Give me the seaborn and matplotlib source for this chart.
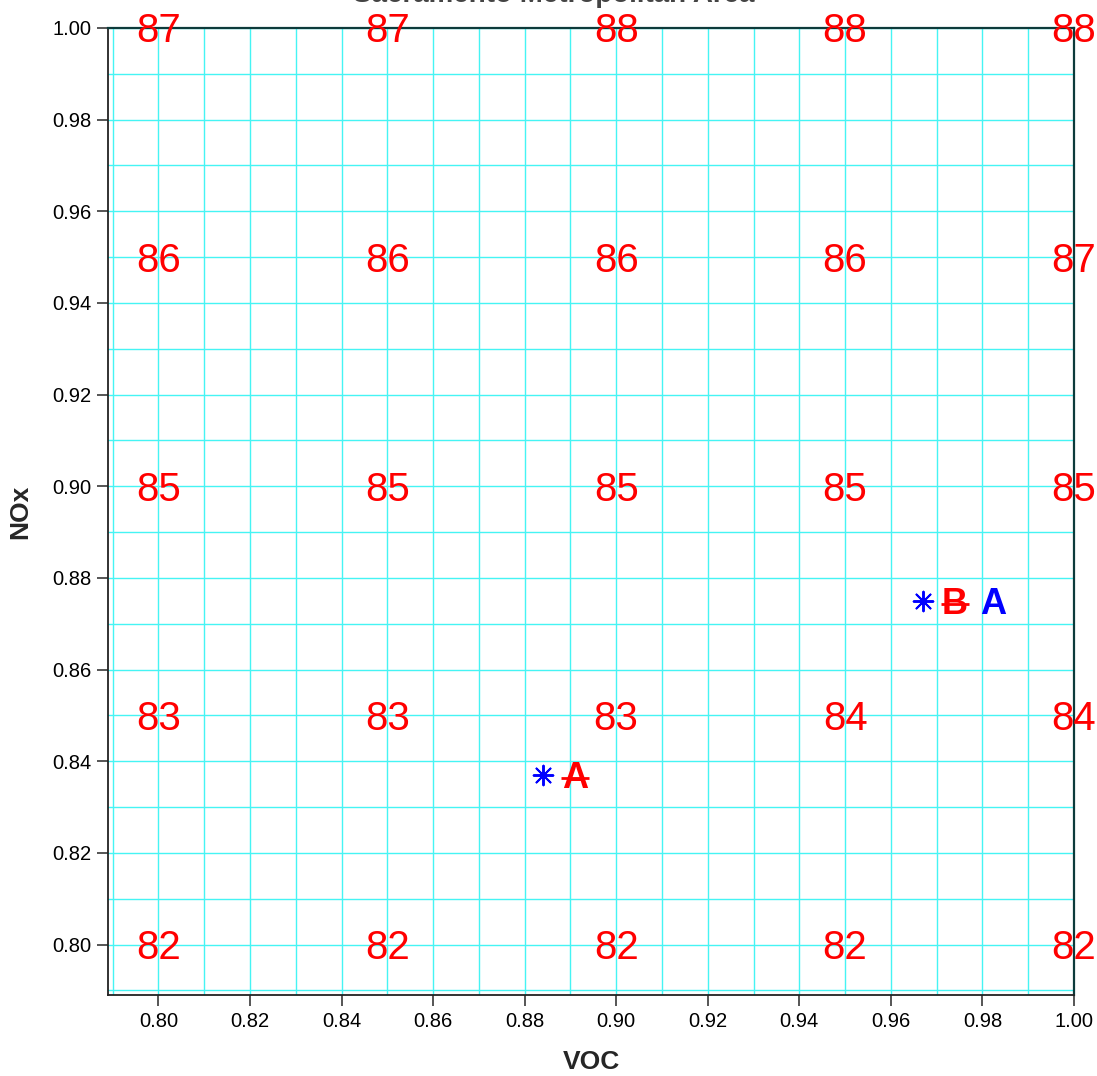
import numpy as np
import matplotlib
matplotlib.use('Agg')
import matplotlib.pyplot as plt
import seaborn as sns; sns.set_style('white')
from matplotlib.transforms import offset_copy

plt.rcParams['font.family'] = ['Liberation Sans', 'DejaVu Sans']

# isopleth grid (VOC / NOx scaling factors) and ozone values at each node
voc_levels = [0.80, 0.85, 0.90, 0.95, 1.00]
nox_levels = [1.00, 0.95, 0.90, 0.85, 0.80]
ozone = [
    [87, 87, 88, 88, 88],
    [86, 86, 86, 86, 87],
    [85, 85, 85, 85, 85],
    [83, 83, 83, 84, 84],
    [82, 82, 82, 82, 82],
]

# scenario points
scen_voc = [0.884, 0.967]
scen_nox = [0.837, 0.875]
# labels next to each point: (text, colour, struck out)
scen_labels = [
    [('A', 'red', True)],
    [('B', 'red', True), ('A', 'blue', False)],
]

title = 'Sacramento Metropolitan Area'

fig, ax = plt.subplots(figsize=(10.97, 10.76), dpi=100)
fig.subplots_adjust(left=0.0985, right=0.979, top=0.974, bottom=0.0753)

ax.set_xlim(0.789, 1.0)
ax.set_ylim(0.789, 1.0)

# grid every 0.01, ticks every 0.02
ax.set_xticks(np.round(np.arange(0.80, 1.001, 0.02), 2))
ax.set_yticks(np.round(np.arange(0.80, 1.001, 0.02), 2))
ax.set_xticks(np.round(np.arange(0.79, 1.001, 0.01), 2), minor=True)
ax.set_yticks(np.round(np.arange(0.79, 1.001, 0.01), 2), minor=True)
ax.xaxis.set_major_formatter(matplotlib.ticker.FormatStrFormatter('%.2f'))
ax.yaxis.set_major_formatter(matplotlib.ticker.FormatStrFormatter('%.2f'))
ax.grid(True, which='both', color='#45f4f4', linewidth=1.0)
ax.set_axisbelow(True)
ax.tick_params(which='major', direction='out', length=8, width=1.4, color='#555555',
               labelsize=14.5, labelcolor='black', bottom=True, left=True, pad=4)
ax.tick_params(which='minor', length=0)

for side in ['left', 'bottom']:
    ax.spines[side].set_color('#222222')
    ax.spines[side].set_linewidth(1.3)
for side in ['top', 'right']:
    ax.spines[side].set_color('#0d3b3b')
    ax.spines[side].set_linewidth(1.6)

ax.set_xlabel('VOC', fontsize=19, fontweight='bold', labelpad=14)
ax.set_ylabel('NOx', fontsize=19, fontweight='bold', labelpad=14)

# ozone values on the grid nodes
for i, ny in enumerate(nox_levels):
    for j, vx in enumerate(voc_levels):
        ax.annotate(str(ozone[i][j]), (vx, ny), xytext=(0, -10.4), textcoords='offset points',
                    ha='center', va='baseline', fontsize=29, color='red',
                    annotation_clip=False, zorder=5)

# scenario points
sns.scatterplot(x=scen_voc, y=scen_nox, marker=(8, 2, 0), s=200, color='blue',
                linewidth=1.4, edgecolor='blue', ax=ax, zorder=6, legend=False)

for (vx, ny), labels in zip(zip(scen_voc, scen_nox), scen_labels):
    dx = 23
    for txt, col, struck in labels:
        ax.annotate(txt, (vx, ny), xytext=(dx, -9.4), textcoords='offset points',
                    ha='center', va='baseline', fontsize=26, fontweight='bold',
                    color=col, zorder=7)
        if struck:
            tr = offset_copy(ax.transData, fig=fig, x=dx, y=-2.2, units='points')
            ax.plot([vx], [ny], marker='_', markersize=20, mew=2, color=col,
                    transform=tr, zorder=8)
        dx += 27.5

# title sits mostly above the canvas, as in the original export
fig.text(0.505, 0.9982, title, ha='center', va='baseline', fontsize=20,
         fontweight='bold', color='#444444')

fig.savefig('out.png', dpi=100)
